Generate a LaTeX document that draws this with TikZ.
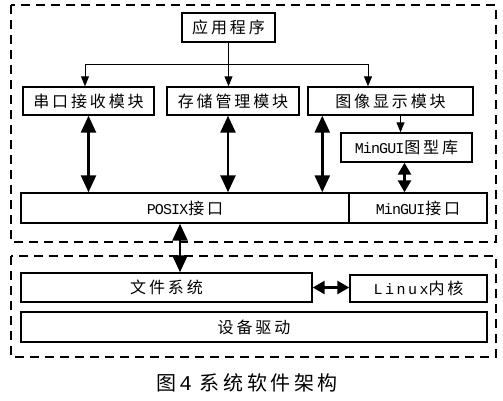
\documentclass[tikz,border=0pt]{standalone}
\usepackage{fontspec}
\usetikzlibrary{arrows.meta}
\newfontfamily\cjk[LetterSpace=18]{Noto Sans CJK SC}
\newfontfamily\lat[LetterSpace=-6]{Liberation Mono}
\begin{document}
\begin{tikzpicture}
  [x=1pt,y=-1pt,%
   every node/.style={shape=rectangle,inner sep=0pt,draw,line width=1.4pt,
     font=\cjk\fontsize{16}{18}\selectfont},
   frame/.style={dashed,line width=1.6pt,dash pattern=on 9pt off 6pt},
   feed/.style={-{Triangle[width=8pt,length=10pt]},line width=1pt},
   link/.style={{Triangle[width=15pt,length=17pt]}-{Triangle[width=15pt,length=17pt]},line width=2.6pt},
   shortlink/.style={{Triangle[width=13pt,length=12pt]}-{Triangle[width=13pt,length=12pt]},line width=2.6pt}]
  \useasboundingbox (0,0) rectangle (503,400);
  % dashed frames
  \draw[frame] (11,5) rectangle (496,242);
  \draw[frame] (11,256) rectangle (496,357);
  % applications
  \node (app) [minimum width=93pt,minimum height=29pt] at (228.5,27.5) {应用程序};
  \node (m1) [minimum width=131pt,minimum height=28pt] at (88.5,101) {串口接收模块};
  \node (m2) [minimum width=132pt,minimum height=28pt] at (233,101) {存储管理模块};
  \node (m3) [minimum width=165pt,minimum height=28pt] at (390.5,101) {图像显示模块};
  \node (gui) [minimum width=131pt,minimum height=29pt] at (406.5,147.5) {{\lat\fontsize{15}{16}\selectfont MinGUI}图型库};
  % interfaces
  \node (posix) [minimum width=328pt,minimum height=30pt] at (185,208) {{\lat\fontsize{15}{16}\selectfont POSIX}接口};
  \node (mgi) [minimum width=138pt,minimum height=30pt] at (418,208) {{\lat\fontsize{15}{16}\selectfont MinGUI}接口};
  % system
  \node (fs) [minimum width=291pt,minimum height=29pt] at (166.5,287.5) {文件系统};
  \node (lk) [minimum width=137pt,minimum height=27pt] at (418.5,288.5) {{\lat\fontsize{15}{16}\selectfont L\,i\,n\,u\,x}内核};
  \node (dev) [minimum width=466pt,minimum height=30pt] at (254,327) {设备驱动};
  \node (cap) [draw=none,font=\cjk\fontsize{20}{22}\selectfont] at (247,383) {图\,{\lat\fontsize{21}{22}\selectfont 4}\hspace{8pt}系统软件架构};
  % connectors
  \coordinate (bus) at (229,64);
  \draw[feed] (app.south) -- (app.south |- m2.north);
  \draw[feed] (bus) -| ([xshift=-3.5pt]m1.north);
  \draw[feed] (bus) -| ([xshift=-22.5pt]m3.north);
  \draw[feed] ([xshift=-6pt]gui.north |- m3.south) -- ([xshift=-6pt]gui.north);
  \draw[link] (m1.south) -- (m1.south |- posix.north);
  \draw[link] ([xshift=-5pt]m2.south) -- ([xshift=-5pt]m2.south |- posix.north);
  \draw[link] ([xshift=15pt]m3.south west) -- ([xshift=15pt]m3.south west |- posix.north);
  \draw[shortlink] ([xshift=-2pt]gui.south) -- ([xshift=-2pt]gui.south |- mgi.north);
  \draw[link] ([xshift=-5pt]posix.south) -- ([xshift=-5pt]posix.south |- fs.north);
  \draw[shortlink] (fs.east) -- (fs.east -| lk.west);
\end{tikzpicture}
\end{document}
